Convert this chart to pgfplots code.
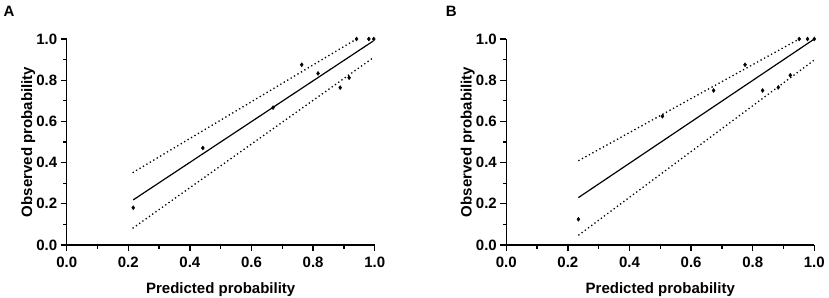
\documentclass[border=0pt]{standalone}
\usepackage{pgfplots}
\pgfplotsset{compat=1.18}
\usepackage{fontspec}
\setmainfont{Liberation Sans}
\begin{document}
\begin{tikzpicture}[x=1pt,y=1pt]
\path[use as bounding box] (0,0) rectangle (829,297);
\pgfplotsset{
  calib/.style={
    scale only axis, width=308pt, height=206pt,
    anchor=origin, clip=false,
    xmin=0,xmax=1,ymin=0,ymax=1,
    axis lines=left, axis line style={-, line width=1.5pt},
    xtick={0,0.2,0.4,0.6,0.8,1}, ytick={0,0.2,0.4,0.6,0.8,1},
    minor xtick={0.1,0.3,0.5,0.7,0.9}, minor ytick={0.1,0.3,0.5,0.7,0.9},
    tick align=outside, major tick length=6pt, minor tick length=3.5pt,
    every tick/.style={line width=1.3pt, black},
    ticklabel style={font=\bfseries\fontsize{15}{17}\selectfont},
    xticklabel style={yshift=-2pt},
    /pgf/number format/fixed, /pgf/number format/fixed zerofill,
    /pgf/number format/precision=1, /pgf/number format/assume math mode=true,
    xlabel={Predicted probability}, ylabel={Observed probability},
    label style={font=\bfseries\fontsize{15}{17}\selectfont},
    xlabel style={at={(axis description cs:0.5,0)}, anchor=base, yshift=-48pt},
    ylabel style={at={(axis description cs:0,0.5)}, anchor=base, yshift=34.7pt},
  }
}
\begin{axis}[calib, at={(66.7pt,52pt)}]
\addplot[black, line width=1.3pt, dash pattern=on 1.3pt off 2.7pt] coordinates {(0.214,0.351) (0.941,1.0)};
\addplot[black, line width=1.3pt, dash pattern=on 1.3pt off 2.7pt] coordinates {(0.214,0.081) (0.997,0.911)};
\addplot[black, line width=1.2pt] coordinates {(0.216,0.219) (0.995,0.99)};
\addplot[only marks, mark=diamond*, mark size=2pt, black] coordinates {
(0.216,0.181) (0.442,0.471) (0.670,0.667) (0.763,0.875) (0.816,0.833)
(0.888,0.764) (0.917,0.812) (0.941,1.0) (0.981,1.0) (0.997,1.0)};
\end{axis}
\begin{axis}[calib, at={(506.3pt,52pt)}]
\addplot[black, line width=1.3pt, dash pattern=on 1.3pt off 2.7pt] coordinates {(0.234,0.409) (0.951,1.0)};
\addplot[black, line width=1.3pt, dash pattern=on 1.3pt off 2.7pt] coordinates {(0.234,0.047) (1.0,0.898)};
\addplot[black, line width=1.2pt] coordinates {(0.234,0.230) (1.0,1.0)};
\addplot[only marks, mark=diamond*, mark size=2pt, black] coordinates {
(0.234,0.125) (0.507,0.625) (0.673,0.75) (0.775,0.875) (0.832,0.75)
(0.883,0.765) (0.922,0.824) (0.951,1.0) (0.978,1.0) (1.0,1.0)};
\end{axis}
\node[anchor=base west, font=\bfseries\fontsize{15}{17}\selectfont, inner sep=0pt] at (3.3,280.3) {A};
\node[anchor=base west, font=\bfseries\fontsize{15}{17}\selectfont, inner sep=0pt] at (445.7,280.3) {B};
\end{tikzpicture}
\end{document}
